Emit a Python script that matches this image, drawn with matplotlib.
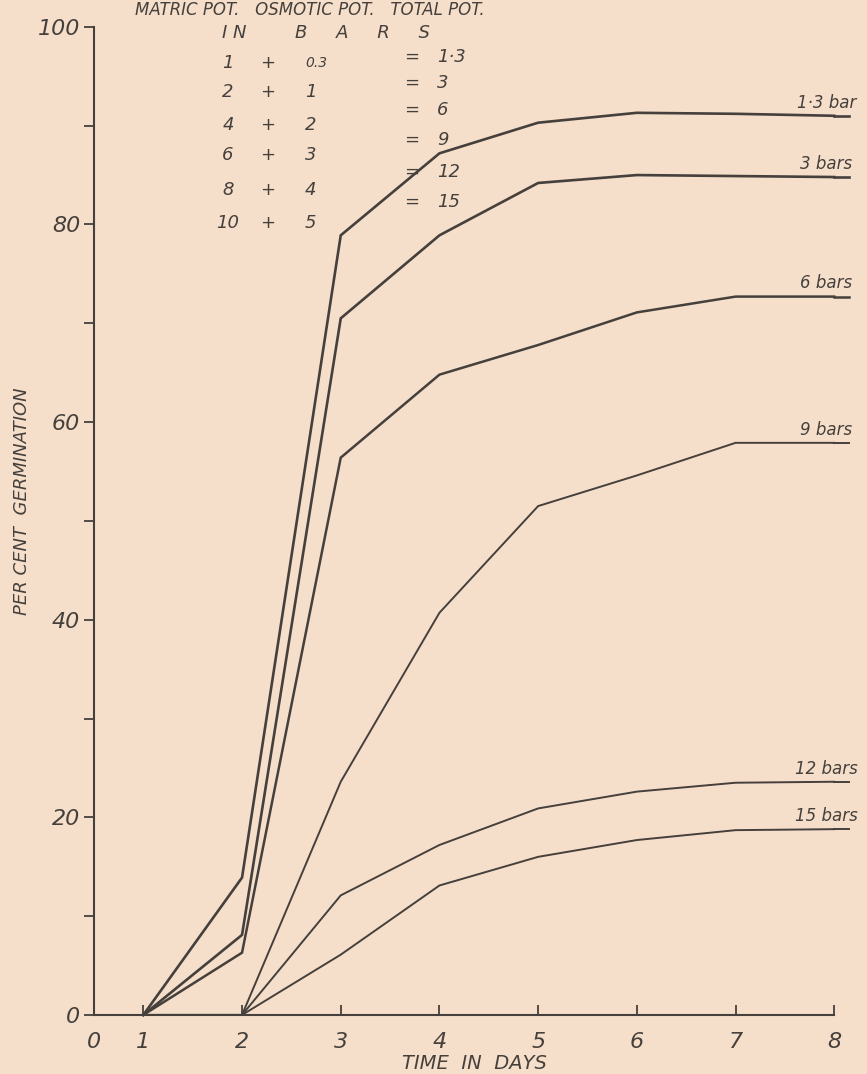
import matplotlib.pyplot as plt

# germination (%) against time
days = [1, 2, 3, 4, 5, 6, 7, 8]
bar_1_3 = [0, 13.9, 78.9, 87.2, 90.3, 91.3, 91.2, 91.0]
bar_3 = [0, 8.1, 70.5, 78.9, 84.2, 85.0, 84.9, 84.8]
bar_6 = [0, 6.3, 56.4, 64.8, 67.8, 71.1, 72.7, 72.7]
bar_9 = [0, 0, 23.6, 40.7, 51.5, 54.6, 57.9, 57.9]
bar_12 = [0, 0, 12.1, 17.2, 20.9, 22.6, 23.5, 23.6]
bar_15 = [0, 0, 6.1, 13.1, 16.0, 17.7, 18.7, 18.8]

series = [bar_1_3, bar_3, bar_6, bar_9, bar_12, bar_15]
series_labels = ['1·3 bar', '3 bars', '6 bars', '9 bars', '12 bars', '15 bars']

# potentials table in the top left corner
matric = ['1', '2', '4', '6', '8', '10']
osmotic = ['0.3', '1', '2', '3', '4', '5']
total = ['1·3', '3', '6', '9', '12', '15']

x_ticks = [0.5, 1, 2, 3, 4, 5, 6, 7, 8]
x_ticklabels = ['0', '1', '2', '3', '4', '5', '6', '7', '8']
y_major = [0, 20, 40, 60, 80, 100]
y_minor = [10, 30, 50, 70, 90]

paper = '#f6dfca'
ink = '#45403c'
hand = dict(family='DejaVu Sans', style='oblique', color=ink)

fig = plt.figure(figsize=(8.67, 10.74), dpi=100)
fig.patch.set_facecolor(paper)
ax = fig.add_axes([0.1084, 0.055, 0.8766, 0.92])
ax.set_facecolor(paper)

widths = [1.9, 1.9, 1.8, 1.4, 1.4, 1.4]
for vals, lab, lw in zip(series, series_labels, widths):
    ax.plot(days, vals, color=ink, lw=lw, clip_on=False, solid_joinstyle='miter')
    # line runs on under the label, like the underlined hand lettering
    ax.plot([days[-1], days[-1] + 0.15], [vals[-1], vals[-1]], color=ink, lw=lw, clip_on=False)
    ax.annotate(lab, (days[-1] - 0.08, vals[-1]), xytext=(0, 3), textcoords='offset points',
                ha='center', va='bottom', fontsize=12, annotation_clip=False, **hand)

ax.set_xlim(0.5, 8.2)
ax.set_ylim(0, 100)
for s in ['top', 'right']:
    ax.spines[s].set_visible(False)
ax.spines['bottom'].set_bounds(0.5, 8)
ax.spines['left'].set_bounds(0, 100)
for s in ['bottom', 'left']:
    ax.spines[s].set_color(ink)
    ax.spines[s].set_linewidth(1.5)

ax.set_xticks(x_ticks)
ax.set_xticklabels(x_ticklabels)
ax.set_yticks(y_major)
ax.set_yticks(y_minor, minor=True)
ax.tick_params(axis='x', direction='in', length=7, width=1.3, color=ink, pad=12)
ax.tick_params(axis='y', which='both', direction='out', length=7, width=1.3, color=ink, pad=3)
for t in ax.get_xticklabels() + ax.get_yticklabels():
    t.set_fontsize(16)
    t.set_fontfamily('DejaVu Sans')
    t.set_fontstyle('oblique')
    t.set_color(ink)

ax.set_xlabel('TIME  IN  DAYS', fontsize=14, labelpad=2, **hand)
ax.set_ylabel('PER CENT  GERMINATION', fontsize=13, **hand)
ax.yaxis.set_label_coords(-0.083, 0.52)

# header and table of potentials
fig.text(135 / 867, 1 - 1 / 1074, 'MATRIC POT.   OSMOTIC POT.   TOTAL POT.', fontsize=12,
         ha='left', va='top', **hand)
fig.text(222 / 867, 1 - 33 / 1074, 'I N', fontsize=13, ha='left', va='center', **hand)
fig.text(295 / 867, 1 - 33 / 1074, 'B     A     R     S', fontsize=13, ha='left', va='center', **hand)
left_rows = [63, 92, 125, 155, 190, 223]
right_rows = [57, 83, 110, 140, 172, 202]
for m, o, t, yl, yr in zip(matric, osmotic, total, left_rows, right_rows):
    fig.text(228 / 867, 1 - yl / 1074, m, fontsize=13, ha='center', va='center', **hand)
    fig.text(268 / 867, 1 - yl / 1074, '+', fontsize=13, ha='center', va='center', **hand)
    fig.text(305 / 867, 1 - yl / 1074, o, fontsize=13 if o != '0.3' else 10,
             ha='left', va='center', **hand)
    fig.text(412 / 867, 1 - yr / 1074, '=', fontsize=13, ha='center', va='center', **hand)
    fig.text(437 / 867, 1 - yr / 1074, t, fontsize=13, ha='left', va='center', **hand)

fig.savefig('out.png', dpi=100, facecolor=paper)
